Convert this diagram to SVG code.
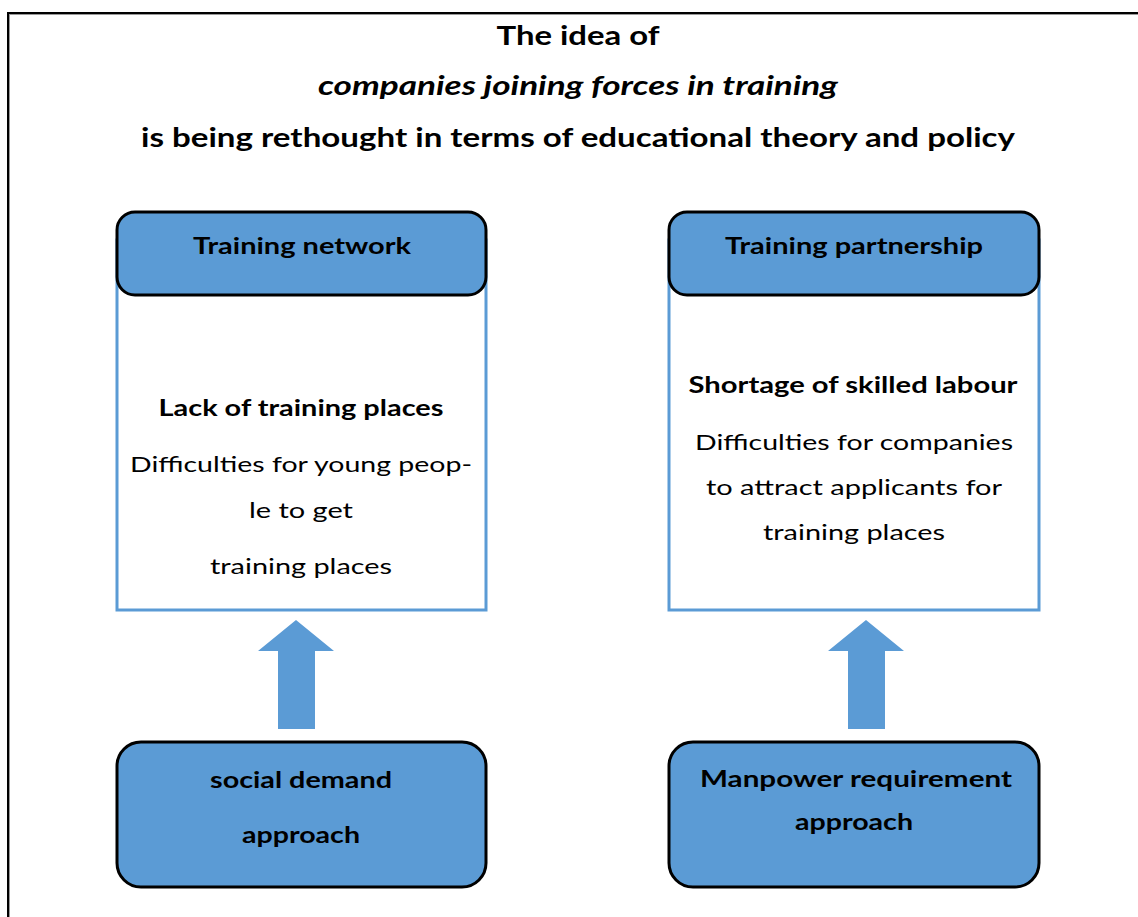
<svg xmlns="http://www.w3.org/2000/svg" width="1138" height="917" viewBox="0 0 1138 917">
  <style>
    text { font-family: Lato, "Open Sans", "Liberation Sans", sans-serif; fill: #000; text-anchor: middle; }
    .title { font-size: 26px; font-weight: bold; }
    .title-it { font-size: 26px; font-weight: bold; font-style: italic; }
    .head { font-size: 22px; font-weight: bold; }
    .sub { font-size: 22px; font-weight: bold; }
    .body { font-size: 22px; }
    .panel { fill: #fff; stroke: #5b9bd5; stroke-width: 3; }
    .cap { fill: #5b9bd5; stroke: #000; stroke-width: 3; }
    .arrow { fill: #5b9bd5; }
  </style>

  <rect x="0" y="0" width="1138" height="917" fill="#fff"/>

  <!-- outer frame -->
  <path d="M9,917 V14 H1138" fill="none" stroke="#999" stroke-width="2"/>
  <path d="M8,917 V13 H1138" fill="none" stroke="#000" stroke-width="2"/>

  <!-- heading -->
  <g id="title">
    <text class="title" x="578" y="45" textLength="163" lengthAdjust="spacingAndGlyphs">The idea of</text>
    <text class="title-it" x="578" y="95" textLength="520" lengthAdjust="spacingAndGlyphs">companies joining forces in training</text>
    <text class="title" x="578" y="147" textLength="874" lengthAdjust="spacingAndGlyphs">is being rethought in terms of educational theory and policy</text>
  </g>

  <!-- left column: training network -->
  <g id="training-network">
    <rect class="panel" x="117" y="240" width="369" height="370"/>
    <rect class="cap" x="117" y="212" width="369" height="83" rx="18"/>
    <text class="head" x="302" y="254" textLength="218" lengthAdjust="spacingAndGlyphs">Training network</text>
    <text class="sub" x="301" y="416" textLength="285" lengthAdjust="spacingAndGlyphs">Lack of training places</text>
    <text class="body" x="301" y="472" textLength="342" lengthAdjust="spacingAndGlyphs">Difficulties for young peop-</text>
    <text class="body" x="301" y="518" textLength="104" lengthAdjust="spacingAndGlyphs">le to get</text>
    <text class="body" x="301" y="574" textLength="182" lengthAdjust="spacingAndGlyphs">training places</text>
  </g>

  <!-- right column: training partnership -->
  <g id="training-partnership">
    <rect class="panel" x="669" y="240" width="370" height="370"/>
    <rect class="cap" x="669" y="212" width="370" height="83" rx="18"/>
    <text class="head" x="854" y="254" textLength="258" lengthAdjust="spacingAndGlyphs">Training partnership</text>
    <text class="sub" x="853" y="393" textLength="329" lengthAdjust="spacingAndGlyphs">Shortage of skilled labour</text>
    <text class="body" x="854" y="450" textLength="318" lengthAdjust="spacingAndGlyphs">Difficulties for companies</text>
    <text class="body" x="854" y="495" textLength="296" lengthAdjust="spacingAndGlyphs">to attract applicants for</text>
    <text class="body" x="854" y="540" textLength="182" lengthAdjust="spacingAndGlyphs">training places</text>
  </g>

  <!-- bottom left: social demand approach -->
  <g id="social-demand">
    <rect class="cap" x="117" y="742" width="369" height="145" rx="24"/>
    <text class="head" x="301" y="788" textLength="182" lengthAdjust="spacingAndGlyphs">social demand</text>
    <text class="head" x="301" y="843" textLength="118" lengthAdjust="spacingAndGlyphs">approach</text>
  </g>

  <!-- bottom right: manpower requirement approach -->
  <g id="manpower-requirement">
    <rect class="cap" x="669" y="742" width="370" height="145" rx="24"/>
    <text class="head" x="856" y="787" textLength="312" lengthAdjust="spacingAndGlyphs">Manpower requirement</text>
    <text class="head" x="854" y="830" textLength="118" lengthAdjust="spacingAndGlyphs">approach</text>
  </g>

  <!-- block arrows pointing up -->
  <g id="connectors">
    <polygon class="arrow" points="296,620 334,651 315,651 315,729 278,729 278,651 258,651"/>
    <polygon class="arrow" points="866,620 904,651 885,651 885,729 848,729 848,651 828,651"/>
  </g>
</svg>
